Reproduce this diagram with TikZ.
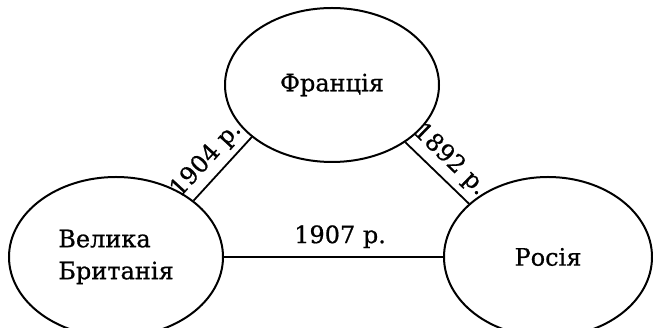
\documentclass[tikz,border=0pt]{standalone}
\usepackage{fontspec}
\setmainfont{DejaVu Serif}[FakeBold=0.7]
\usetikzlibrary{shapes.geometric}

\begin{document}
\begin{tikzpicture}[
  x=1pt, y=1pt,
  country/.style={ellipse, draw, line width=2pt, inner sep=0pt, font=\fontsize{24}{32}\selectfont},
  link/.style={line width=1.8pt},
  year/.style={font=\fontsize{24}{30}\selectfont, inner sep=6pt}
]
  \useasboundingbox (0,0) rectangle (653,328);

  \node[country, minimum width=214pt, minimum height=154pt] (FR) at (332,243) {Франція};
  \node[country, minimum width=214pt, minimum height=160pt, align=left] (GB) at (116,71) {Велика\\Британія};
  \node[country, minimum width=208pt, minimum height=160pt] (RU) at (548,71) {Росія};

  \draw[link] (GB.36) -- node[year, sloped, above=0pt, pos=0.45] {1904 р.} (FR.213);
  \draw[link] (FR.322) -- node[year, sloped, above=0pt] {1892 р.} (RU.146);
  \draw[link] (GB.east) -- node[year, above=2pt, pos=0.53] {1907 р.} (RU.west);
\end{tikzpicture}
\end{document}
